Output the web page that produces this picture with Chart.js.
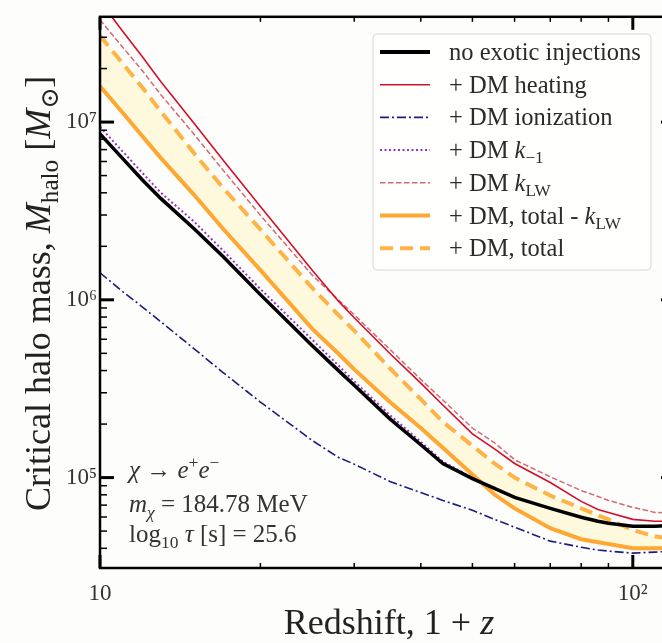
<!DOCTYPE html>
<html><head><meta charset="utf-8">
<script src="https://cdn.jsdelivr.net/npm/chart.js@4.4.1/dist/chart.umd.min.js"></script>
<style>
html,body{margin:0;padding:0;background:#fdfdfb;overflow:hidden;width:662px;height:643px}
#wrap{position:absolute;left:0;top:0;width:680px;height:643px}
canvas{background:#fdfdfb}
</style>
</head><body><div id="wrap"><canvas id="c" width="680" height="643"></canvas></div>
<script>
// ---- data ----
const redshift      = [10, 11, 12, 13, 15, 17, 20, 25, 28, 30, 35, 40, 44, 50, 55, 60, 70, 80, 86, 90, 100, 110, 120];
const noExotic      = [8.57e6, 6.29e6, 4.74e6, 3.72e6, 2.52e6, 1.76e6, 1.07e6, 5.54e5, 4.01e5, 3.31e5, 2.14e5, 1.53e5, 1.20e5, 9.87e4, 8.69e4, 7.73e4, 6.71e4, 5.98e4, 5.68e4, 5.53e4, 5.32e4, 5.32e4, 5.39e4];
const dmHeating     = [4.81e7, 3.27e7, 2.34e7, 1.69e7, 9.87e6, 6.14e6, 3.35e6, 1.47e6, 9.86e5, 7.93e5, 4.99e5, 3.40e5, 2.56e5, 1.76e5, 1.45e5, 1.20e5, 9.38e4, 7.35e4, 6.62e4, 6.37e4, 5.82e4, 5.68e4, 5.68e4];
const dmIonization  = [1.42e6, 1.12e6, 9.14e5, 7.54e5, 5.32e5, 3.91e5, 2.66e5, 1.62e5, 1.30e5, 1.19e5, 9.50e4, 8.24e4, 7.44e4, 6.55e4, 5.82e4, 5.26e4, 4.39e4, 4.06e4, 3.91e4, 3.86e4, 3.76e4, 3.81e4, 3.86e4];
const dmKm1         = [9.38e6, 6.89e6, 5.19e6, 4.01e6, 2.76e6, 1.90e6, 1.15e6, 5.98e5, 4.28e5, 3.48e5, 2.25e5, 1.59e5, 1.23e5, 1.00e5, 8.69e4, 7.73e4, 6.71e4, 5.98e4, 5.68e4, 5.53e4, 5.32e4, 5.32e4, 5.39e4];
const dmKLW         = [3.76e7, 2.66e7, 1.95e7, 1.43e7, 8.57e6, 5.39e6, 2.99e6, 1.38e6, 1.00e6, 8.24e5, 5.26e5, 3.57e5, 2.73e5, 1.90e5, 1.57e5, 1.26e5, 1.01e5, 8.45e4, 7.83e4, 7.44e4, 6.80e4, 6.37e4, 6.29e4];
const dmTotalNoKLW  = [1.59e7, 1.14e7, 8.35e6, 6.29e6, 3.91e6, 2.52e6, 1.47e6, 6.88e5, 4.99e5, 4.06e5, 2.66e5, 1.90e5, 1.47e5, 1.04e5, 8.03e4, 6.71e4, 5.19e4, 4.50e4, 4.33e4, 4.23e4, 4.01e4, 4.01e4, 4.01e4];
const dmTotal       = [3.06e7, 2.16e7, 1.57e7, 1.15e7, 6.71e6, 4.28e6, 2.49e6, 1.17e6, 8.24e5, 6.71e5, 4.12e5, 2.76e5, 2.06e5, 1.51e5, 1.20e5, 1.00e5, 7.93e4, 6.71e4, 6.13e4, 5.82e4, 5.06e4, 4.68e4, 4.50e4];

const xTickValues = [10, 100];
const xTickLabels = ['10', '10²'];
const yTickValues = [1e5, 1e6, 1e7];
const yTickLabels = ['10⁵', '10⁶', '10⁷'];

const seriesNames = ['no exotic injections', '+ DM heating', '+ DM ionization', '+ DM k-1', '+ DM kLW', '+ DM, total - kLW', '+ DM, total'];

const SERIF = '"Liberation Serif", "DejaVu Serif", serif';
const pts = arr => redshift.map((x, i) => ({x, y: arr[i]}));

// Rich-text segments for labels (math-like formatting)
const legendRich = [
  [{t:'no exotic injections'}],
  [{t:'+ DM heating'}],
  [{t:'+ DM ionization'}],
  [{t:'+ DM '},{t:'k',i:1},{t:'−1',s:0.7,dy:0.22}],
  [{t:'+ DM '},{t:'k',i:1},{t:'LW',s:0.7,dy:0.22}],
  [{t:'+ DM, total - '},{t:'k',i:1},{t:'LW',s:0.7,dy:0.22}],
  [{t:'+ DM, total'}]
];
const annotRich = [
  [{t:'χ',i:1},{t:' → '},{t:'e',i:1},{t:'+',s:0.7,dy:-0.4},{t:'e',i:1},{t:'−',s:0.7,dy:-0.4}],
  [{t:'m',i:1},{t:'χ',i:1,s:0.7,dy:0.25},{t:' = 184.78 MeV'}],
  [{t:'log'},{t:'10',s:0.7,dy:0.25},{t:' '},{t:'τ',i:1},{t:' [s] = 25.6'}]
];
const xTitleRich = [{t:'Redshift, 1 + '},{t:'z',i:1}];
const yTitleRich = [{t:'Critical halo mass, '},{t:'M',i:1},{t:'halo',s:0.7,dy:0.22},{t:' ['},{t:'M',i:1},{t:'⊙',s:0.7,dy:0.22},{t:']'}];

function segFont(seg, base){ return (seg.i?'italic ':'') + (base*(seg.s||1)).toFixed(1) + 'px ' + SERIF; }
function richWidth(ctx, segs, base){ let w=0; for(const s of segs){ ctx.font=segFont(s,base); w+=ctx.measureText(s.t).width; } return w; }
function drawRich(ctx, segs, x, y, base, align){
  let cx = align==='center' ? x - richWidth(ctx, segs, base)/2 : x;
  ctx.textBaseline='alphabetic'; ctx.textAlign='left';
  for(const s of segs){ ctx.font=segFont(s,base); ctx.fillText(s.t, cx, y+(s.dy||0)*base); cx+=ctx.measureText(s.t).width; }
}

const framePlugin = {
  id:'frame',
  afterDraw(chart){
    const {ctx, chartArea:a, scales:{x, y}} = chart;
    ctx.save();
    ctx.strokeStyle='#000'; ctx.lineCap='butt';
    const seg=(x1,y1,x2,y2)=>{ctx.beginPath();ctx.moveTo(x1,y1);ctx.lineTo(x2,y2);ctx.stroke();};
    for(let e=4;e<=7;e++) for(let m=1;m<=9;m++){
      const v=m*Math.pow(10,e); if(v<y.min||v>y.max) continue;
      const p=y.getPixelForValue(v), major=m===1, L=major?14:7;
      ctx.lineWidth=major?3:1.5;
      seg(a.left,p,a.left+L,p); seg(a.right,p,a.right-L,p);
    }
    for(let e=1;e<=2;e++) for(let m=1;m<=9;m++){
      const v=m*Math.pow(10,e); if(v<x.min||v>x.max) continue;
      const p=x.getPixelForValue(v), major=m===1, L=major?13:5;
      ctx.lineWidth=major?3:1.5;
      seg(p,a.bottom,p,a.bottom-L); seg(p,a.top,p,a.top+L);
    }
    ctx.lineWidth=2.5;
    ctx.strokeRect(a.left,a.top,a.right-a.left,a.bottom-a.top);

    // annotation text
    ctx.fillStyle='#333';
    const ann=[478,512,542];
    annotRich.forEach((r,i)=>drawRich(ctx,r,a.left+29,ann[i],25,'left'));

    // legend
    const lx=373, ly=34, lw=278, lh=236;
    ctx.beginPath(); ctx.roundRect(lx,ly,lw,lh,4);
    ctx.fillStyle='rgba(255,255,255,0.85)'; ctx.fill();
    ctx.lineWidth=1; ctx.strokeStyle='#d8d8d8'; ctx.stroke();
    chart.data.datasets.forEach((ds,i)=>{
      const ry = 52 + i*32.7;
      ctx.save();
      ctx.strokeStyle=ds.borderColor; ctx.lineWidth=ds.legendWidth||ds.borderWidth;
      ctx.setLineDash(ds.borderDash||[]);
      seg(380,ry,430,ry);
      ctx.restore();
      ctx.fillStyle='#2b2b2b';
      drawRich(ctx,legendRich[i],449,ry+8,24.5,'left');
    });

    // axis titles
    ctx.fillStyle='#222';
    drawRich(ctx,xTitleRich,389,634,36,'center');
    ctx.save(); ctx.translate(50,(a.top+a.bottom)/2+1); ctx.rotate(-Math.PI/2);
    drawRich(ctx,yTitleRich,0,0,36,'center'); ctx.restore();
    ctx.restore();
  }
};

const fillColor='rgba(255,236,160,0.33)';
new Chart(document.getElementById('c'),{
  type:'line',
  data:{datasets:[
    {label:seriesNames[0],data:pts(noExotic),borderColor:'#000',borderWidth:3.5,legendWidth:4,order:1},
    {label:seriesNames[1],data:pts(dmHeating),borderColor:'#d2102a',borderWidth:1.6,order:3},
    {label:seriesNames[2],data:pts(dmIonization),borderColor:'#1c1c80',borderWidth:1.6,borderDash:[9,3,2,3],order:4},
    {label:seriesNames[3],data:pts(dmKm1),borderColor:'#9a30c8',borderWidth:2,borderDash:[2,2.5],order:2},
    {label:seriesNames[4],data:pts(dmKLW),borderColor:'#d36a72',borderWidth:1.5,borderDash:[5.5,2.5],order:3},
    {label:seriesNames[5],data:pts(dmTotalNoKLW),borderColor:'#ffa733',borderWidth:4,order:5},
    {label:seriesNames[6],data:pts(dmTotal),borderColor:'#ffb347',borderWidth:4,borderDash:[13,7],order:5,fill:{target:5},backgroundColor:fillColor}
  ]},
  options:{
    responsive:false, animation:false, devicePixelRatio:1,
    layout:{padding:{top:12,right:5,left:0,bottom:0}},
    elements:{point:{radius:0},line:{tension:0,fill:false}},
    plugins:{legend:{display:false},tooltip:{enabled:false}},
    scales:{
      x:{type:'logarithmic',min:10,max:120,
        grid:{display:false,drawTicks:false},border:{display:false},
        afterBuildTicks:s=>{s.ticks=xTickValues.map(v=>({value:v}));},
        afterFit:s=>{s.height=75;},
        ticks:{autoSkip:false,maxRotation:0,padding:12,color:'#333',font:{family:SERIF,size:23},
          callback:(v)=>{const k=xTickValues.indexOf(v);return k>=0?xTickLabels[k]:'';}}},
      y:{type:'logarithmic',min:31000,max:3.91e7,
        grid:{display:false,drawTicks:false},border:{display:false},
        afterBuildTicks:s=>{s.ticks=yTickValues.map(v=>({value:v}));},
        afterFit:s=>{s.width=100;},
        ticks:{autoSkip:false,padding:3,color:'#333',font:{family:SERIF,size:23},
          callback:(v)=>{const k=yTickValues.indexOf(v);return k>=0?yTickLabels[k]:'';}}}
    }
  },
  plugins:[framePlugin]
});
</script>
</body></html>
